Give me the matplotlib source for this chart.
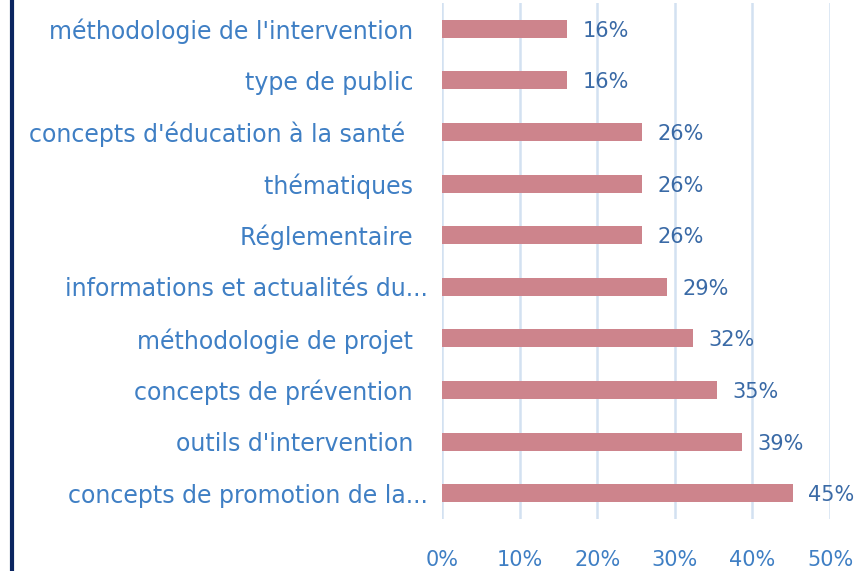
import matplotlib
matplotlib.use("Agg")
import matplotlib.pyplot as plt
from matplotlib.lines import Line2D

categories = [
    "concepts de promotion de la...",
    "outils d'intervention  ",
    "concepts de prévention  ",
    "méthodologie de projet  ",
    "informations et actualités du...",
    "Réglementaire  ",
    "thématiques  ",
    "concepts d'éducation à la santé   ",
    "type de public  ",
    "méthodologie de l'intervention  ",
]
values = [45.2, 38.7, 35.5, 32.3, 29.0, 25.8, 25.8, 25.8, 16.1, 16.1]
value_labels = ["45%", "39%", "35%", "32%", "29%", "26%", "26%", "26%", "16%", "16%"]
xticks = [0, 10, 20, 30, 40, 50]
xtick_labels = ["0%", "10%", "20%", "30%", "40%", "50%"]

plt.rcParams['font.family'] = ['DejaVu Sans']

fig = plt.figure(figsize=(8.61, 5.71), dpi=100)
ax = fig.add_axes([442/861, 1-519/571, (830-442)/861, (519-3)/571])

bar_color = "#cd848c"
label_color = "#3f7fc4"
val_color = "#3a6aa6"

y = list(range(len(categories)))
ax.barh(y, values, height=0.35, color=bar_color, zorder=3)
for yi, v, lab in zip(y, values, value_labels):
    ax.annotate(lab, (v, yi), xytext=(11, -1.5), textcoords="offset points",
                ha="left", va="center", fontsize=15, color=val_color, clip_on=False)

ax.set_ylim(-0.5, len(categories) - 0.5)
ax.set_xlim(0, 50)
ax.set_yticks(y)
ax.set_yticklabels(categories, fontsize=17, color=label_color)
ax.set_xticks(xticks)
ax.set_xticklabels(xtick_labels, fontsize=15, color=label_color)
ax.tick_params(axis="y", length=0, pad=10)
ax.tick_params(axis="x", length=0, pad=22)
ax.grid(axis="x", color="#d3e1f1", linewidth=1.8, zorder=0)
for s in ax.spines.values():
    s.set_visible(False)

fig.add_artist(Line2D([11.5/861, 11.5/861], [0, 1], color="#0b2560", linewidth=3, transform=fig.transFigure))

fig.savefig("out.png", dpi=100, facecolor="white")
